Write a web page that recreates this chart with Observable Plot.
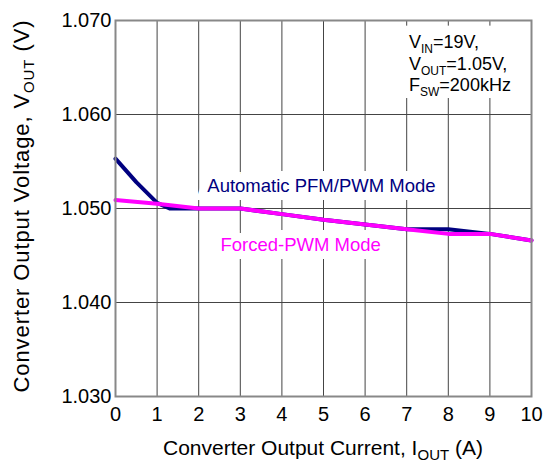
<!DOCTYPE html>
<html>
<head>
<meta charset="utf-8">
<script src="https://cdn.jsdelivr.net/npm/d3@7"></script>
<script src="https://cdn.jsdelivr.net/npm/@observablehq/plot@0.6"></script>
<style>
  html, body { margin: 0; padding: 0; background: white; }
  #chart { width: 547px; height: 463px; }
</style>
</head>
<body>
<div id="chart"></div>
<script>
// Data
const autoCurrent = [0, 0.5, 1, 1.3, 2, 3, 4, 5, 6, 7, 8, 9, 10];
const autoVoltage = [1.0553, 1.0528, 1.0506, 1.0500, 1.0500, 1.0500, 1.0494, 1.0488, 1.0483, 1.0478, 1.0478, 1.0473, 1.0466];
const forcedCurrent = [0, 1, 2, 3, 4, 5, 6, 7, 8, 9, 10];
const forcedVoltage = [1.0509, 1.0505, 1.0500, 1.0500, 1.0494, 1.0488, 1.0483, 1.0478, 1.0473, 1.0473, 1.0466];
const xTicks = [0, 1, 2, 3, 4, 5, 6, 7, 8, 9, 10];
const yTicks = [1.030, 1.040, 1.050, 1.060, 1.070];
const seriesLabels = ["Automatic PFM/PWM Mode", "Forced-PWM Mode"];
const seriesLabelX = [4.95, 4.45];
const seriesLabelY = [1.05235, 1.04615];
const seriesColors = ["#000080", "#ff00ff"];

const autoData = autoCurrent.map((x, i) => ({x, y: autoVoltage[i]}));
const forcedData = forcedCurrent.map((x, i) => ({x, y: forcedVoltage[i]}));
const labelData = seriesLabels.map((t, i) => ({t, x: seriesLabelX[i], y: seriesLabelY[i], c: seriesColors[i]}));
const boxData = [{x1: 6.7, x2: 10, y1: 1.0617, y2: 1.0694}];

const font = "'Liberation Sans', Arial, Helvetica, sans-serif";

const plot = Plot.plot({
  width: 547,
  height: 463,
  marginLeft: 115,
  marginRight: 16,
  marginTop: 20,
  marginBottom: 67,
  style: {fontFamily: font, fontSize: "20px", color: "black", background: "white"},
  x: {domain: [0, 10], ticks: xTicks, label: null},
  y: {domain: [1.03, 1.07], ticks: yTicks, label: null, tickFormat: d3.format(".3f")},
  marks: [
    Plot.gridX(xTicks, {stroke: "#444", strokeOpacity: 1, strokeWidth: 1}),
    Plot.gridY(yTicks, {stroke: "#444", strokeOpacity: 1, strokeWidth: 1}),
    Plot.rect(boxData, {x1: "x1", x2: "x2", y1: "y1", y2: "y2", fill: "white"}),
    Plot.text(labelData, {x: "x", y: "y", text: "t", fill: "c", stroke: "white", strokeWidth: 16, strokeLinejoin: "miter", fontSize: 18.5}),
    Plot.line(autoData, {x: "x", y: "y", stroke: seriesColors[0], strokeWidth: 4}),
    Plot.line(forcedData, {x: "x", y: "y", stroke: seriesColors[1], strokeWidth: 4}),
    Plot.frame({stroke: "#888", strokeWidth: 2}),
    Plot.axisX(xTicks, {tickSize: 0, tickPadding: 10, fontSize: 20, label: null}),
    Plot.axisY(yTicks, {tickSize: 0, tickPadding: 4, fontSize: 20, label: null, tickFormat: d3.format(".3f")})
  ]
});

document.getElementById("chart").appendChild(plot);

// Axis titles and condition annotation with subscripts
const svg = d3.select(plot);
function addSub(textSel, parts, subSize) {
  parts.forEach(p => {
    const ts = textSel.append("tspan").text(p.t);
    if (p.sub) ts.attr("font-size", subSize).attr("dy", "5px");
    else if (p.after) ts.attr("dy", "-5px");
  });
}
const xTitle = svg.append("text")
  .attr("x", 323).attr("y", 455)
  .attr("text-anchor", "middle")
  .attr("font-family", font).attr("font-size", "21px").attr("fill", "black");
addSub(xTitle, [{t: "Converter Output Current, I"}, {t: "OUT", sub: true}, {t: " (A)", after: true}], "15px");

const yTitle = svg.append("text")
  .attr("transform", "translate(29,206) rotate(-90)")
  .attr("text-anchor", "middle")
  .attr("letter-spacing", "0.9px")
  .attr("font-family", font).attr("font-size", "22px").attr("fill", "black");
addSub(yTitle, [{t: "Converter Output Voltage, V"}, {t: "OUT", sub: true}, {t: " (V)", after: true}], "15px");

const notes = [
  [{t: "V"}, {t: "IN", sub: true}, {t: "=19V,", after: true}],
  [{t: "V"}, {t: "OUT", sub: true}, {t: "=1.05V,", after: true}],
  [{t: "F"}, {t: "SW", sub: true}, {t: "=200kHz", after: true}]
];
notes.forEach((parts, i) => {
  const t = svg.append("text")
    .attr("x", 409).attr("y", 48 + i * 21.5)
    .attr("text-anchor", "start")
    .attr("font-family", font).attr("font-size", "18px").attr("fill", "black");
  addSub(t, parts, "12px");
});
</script>
</body>
</html>
